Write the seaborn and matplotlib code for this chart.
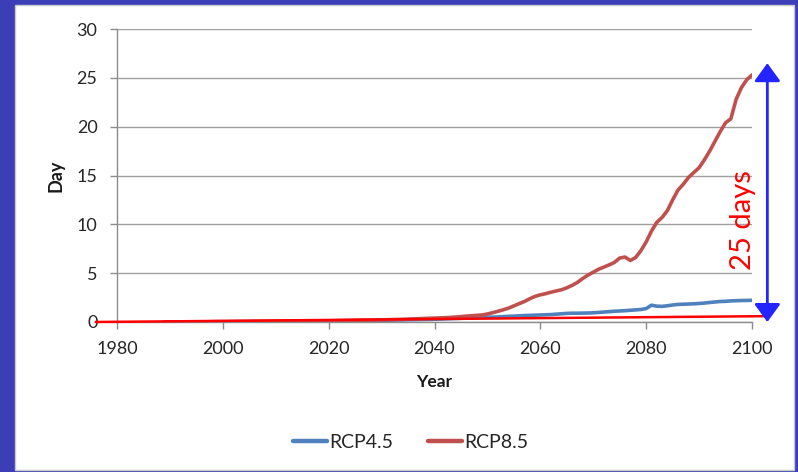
import matplotlib
matplotlib.use("Agg")
import matplotlib.pyplot as plt
from matplotlib.patches import Rectangle
import pandas as pd
import seaborn as sns

# ---- data -------------------------------------------------------------
years = list(range(1989, 2101))

rcp45 = [
    0.00, 0.00, 0.01, 0.01, 0.01, 0.01, 0.02, 0.02, 0.02, 0.02, 0.03,      # 1989-1999
    0.03, 0.03, 0.03, 0.04, 0.04, 0.04, 0.05, 0.05, 0.05, 0.06,            # 2000s
    0.06, 0.06, 0.07, 0.07, 0.08, 0.08, 0.09, 0.09, 0.10, 0.10,            # 2010s
    0.11, 0.11, 0.12, 0.12, 0.13, 0.14, 0.15, 0.15, 0.16, 0.17,            # 2020s
    0.18, 0.19, 0.20, 0.21, 0.22, 0.23, 0.24, 0.25, 0.26, 0.27,            # 2030s
    0.28, 0.30, 0.32, 0.34, 0.36, 0.38, 0.40, 0.42, 0.44, 0.46,            # 2040s
    0.48, 0.50, 0.52, 0.55, 0.58, 0.60, 0.63, 0.66, 0.68, 0.70,            # 2050s
    0.72, 0.74, 0.76, 0.80, 0.84, 0.88, 0.90, 0.90, 0.91, 0.92,            # 2060s
    0.94, 0.98, 1.02, 1.06, 1.10, 1.13, 1.16, 1.20, 1.24, 1.28,            # 2070s
    1.38, 1.72, 1.62, 1.60, 1.66, 1.74, 1.80, 1.82, 1.84, 1.86,            # 2080s
    1.90, 1.94, 2.00, 2.05, 2.10, 2.12, 2.16, 2.18, 2.20, 2.21,            # 2090s
    2.22,                                                                  # 2100
]

rcp85 = [
    0.00, 0.00, 0.01, 0.01, 0.01, 0.02, 0.02, 0.02, 0.02, 0.03, 0.03,      # 1989-1999
    0.03, 0.03, 0.04, 0.04, 0.04, 0.05, 0.05, 0.05, 0.06, 0.06,            # 2000s
    0.07, 0.07, 0.08, 0.08, 0.09, 0.09, 0.10, 0.10, 0.11, 0.11,            # 2010s
    0.12, 0.13, 0.14, 0.15, 0.16, 0.17, 0.18, 0.19, 0.20, 0.21,            # 2020s
    0.22, 0.23, 0.25, 0.26, 0.28, 0.30, 0.32, 0.34, 0.36, 0.38,            # 2030s
    0.40, 0.42, 0.44, 0.47, 0.51, 0.55, 0.60, 0.64, 0.68, 0.72,            # 2040s
    0.82, 0.95, 1.10, 1.25, 1.42, 1.65, 1.88, 2.10, 2.38, 2.62,            # 2050s
    2.78, 2.90, 3.05, 3.18, 3.30, 3.50, 3.75, 4.05, 4.45, 4.80,            # 2060s
    5.10, 5.40, 5.62, 5.85, 6.10, 6.55, 6.65, 6.30, 6.60, 7.30,            # 2070s
    8.20, 9.30, 10.20, 10.70, 11.40, 12.50, 13.50, 14.10, 14.80, 15.30,    # 2080s
    15.80, 16.60, 17.50, 18.50, 19.50, 20.40, 20.80, 22.80, 24.00, 24.80,  # 2090s
    25.30,                                                                 # 2100
]

scenarios = ["RCP4.5", "RCP8.5"]
scenario_colors = ["#4F81BD", "#C0504D"]

x_ticks = [1980, 2000, 2020, 2040, 2060, 2080, 2100]
y_ticks = [0, 5, 10, 15, 20, 25, 30]

# baseline trend line and the span arrow (data units)
trend_x = [1975.8, 2102.9]
trend_y = [0.0, 0.6]
span_x = 2102.9
span_low, span_high = 0.0, 26.5
span_label = "25 days"
span_label_pos = (2098.3, 10.4)

# ---- figure -----------------------------------------------------------
sns.set_theme(style="white")
plt.rcParams["font.family"] = ["Lato", "DejaVu Sans"]

W, H = 798, 472
fig = plt.figure(figsize=(W / 100, H / 100), dpi=100, facecolor="#3c3eb8")

# white slide panel holding the chart
fig.patches.append(Rectangle((15 / W, 2 / H), (794 - 15) / W, (467 - 2) / H,
                             transform=fig.transFigure, facecolor="white",
                             edgecolor="#c8c8c8", linewidth=1, zorder=-10))

ax = fig.add_axes([117 / W, 1 - 322 / H, (752 - 117) / W, (322 - 29) / H])
ax.set_facecolor("none")

df = pd.DataFrame({
    "Year": years * 2,
    "Day": rcp45 + rcp85,
    "Scenario": [scenarios[0]] * len(years) + [scenarios[1]] * len(years),
})

sns.lineplot(data=df, x="Year", y="Day", hue="Scenario",
             palette=dict(zip(scenarios, scenario_colors)),
             linewidth=2.6, ax=ax, zorder=3)

ax.set_xlim(x_ticks[0], x_ticks[-1])
ax.set_ylim(y_ticks[0], y_ticks[-1])
ax.set_xticks(x_ticks)
ax.set_yticks(y_ticks)

ax.yaxis.grid(True, color="#a0a0a0", linewidth=1)
ax.xaxis.grid(False)
for side in ("top", "right"):
    ax.spines[side].set_visible(False)
for side in ("left", "bottom"):
    ax.spines[side].set_color("#8c8c8c")
    ax.spines[side].set_linewidth(1)

ax.tick_params(axis="both", which="major", bottom=True, left=True,
               direction="out", length=5, width=1, color="#8c8c8c",
               labelsize=13, labelcolor="#262626", pad=9)

ax.set_xlabel("Year", fontsize=12.5, fontweight="bold", color="#1a1a1a")
ax.set_ylabel("Day", fontsize=13, fontweight="bold", color="#1a1a1a")
ax.xaxis.set_label_coords(0.5, -0.177)
ax.yaxis.set_label_coords(-0.082, 0.5)

# legend below the plot
sns.move_legend(ax, "center", bbox_to_anchor=(0.462, -0.41), ncol=2,
                frameon=False, title=None, fontsize=14,
                handlelength=1.75, handletextpad=0.1, columnspacing=1.8)
for h in ax.get_legend().get_lines():
    h.set_linewidth(3.2)
for t in ax.get_legend().get_texts():
    t.set_color("#262626")

# red baseline trend
ax.plot(trend_x, trend_y, color="#ff0000", linewidth=1.8, zorder=5,
        clip_on=False, solid_capstyle="butt")

# blue double-headed span arrow
ax.annotate("", xy=(span_x, span_high), xytext=(span_x, span_low),
            arrowprops=dict(arrowstyle="<|-|>,head_length=1.1,head_width=0.8",
                            color="#2424ff", lw=2, shrinkA=0, shrinkB=0,
                            mutation_scale=10),
            annotation_clip=False, zorder=6)

ax.text(*span_label_pos, span_label, rotation=90, color="#ff0000",
        fontsize=21, ha="center", va="center", zorder=6)

fig.savefig("out.png", dpi=100, facecolor=fig.get_facecolor())
